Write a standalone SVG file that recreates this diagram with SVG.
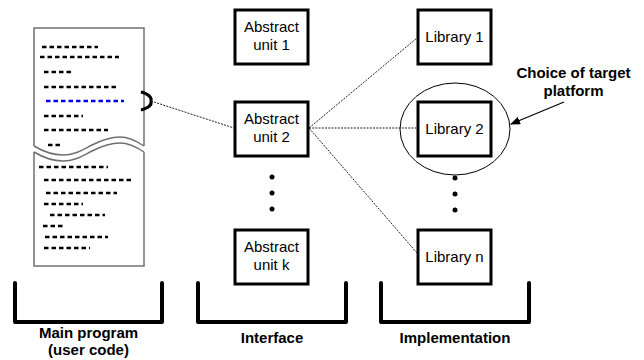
<svg xmlns="http://www.w3.org/2000/svg" width="644" height="360" viewBox="0 0 644 360">
<style>
  .box { fill: #fff; stroke: #000; stroke-width: 3; }
  .lbl { font-family: "Liberation Sans", Arial, sans-serif; font-size: 15px; fill: #000; text-anchor: middle; }
  .bold { font-family: "Liberation Sans", Arial, sans-serif; font-size: 15px; font-weight: bold; fill: #000; text-anchor: middle; }
  .brk { fill: none; stroke: #000; stroke-width: 4; stroke-linecap: round; stroke-linejoin: round; }
  .doc { fill: none; stroke: #707070; stroke-width: 1.5; }
  .code { stroke: #000; stroke-width: 2.4; stroke-dasharray: 4.5 3; }
  .conn { fill: none; stroke: #222; stroke-width: 1; stroke-dasharray: 2 1.2; }
  .dot { fill: #000; }
</style>
<defs>
  <marker id="arrow" markerWidth="10" markerHeight="8" refX="9" refY="4" orient="auto" markerUnits="userSpaceOnUse">
    <path d="M0,0 L10,4 L0,8 Z" fill="#000"/>
  </marker>
</defs>
<rect width="644" height="360" fill="#fff"/>

<g id="main-program">
  <path d="M34,146 V28 H144 V146" class="doc"/>
  <path d="M34,146 C44,152 53,155 63,155 C75,155 82,150 92,145 C102,140 110,137 120,137 C130,137 138,142 144,146" class="doc"/>
  <path d="M34,152 C44,158 53,161 63,161 C75,161 82,156 92,151 C102,146 110,143 120,143 C130,143 138,148 144,152" class="doc"/>
  <path d="M34,152 V266 H144 V152" class="doc"/>
  <g class="code">
    <line x1="42" y1="47" x2="98" y2="47"/>
    <line x1="40" y1="57" x2="119" y2="57"/>
    <line x1="44" y1="72" x2="72" y2="72"/>
    <line x1="44" y1="87" x2="116" y2="87"/>
    <line x1="46" y1="101" x2="124" y2="101" stroke="#0000ee"/>
    <line x1="44" y1="116" x2="83" y2="116"/>
    <line x1="44" y1="130" x2="108" y2="130"/>
    <line x1="48" y1="145" x2="61" y2="145"/>
    <line x1="39" y1="167" x2="108" y2="167"/>
    <line x1="44" y1="180" x2="132" y2="180"/>
    <line x1="46" y1="193" x2="117" y2="193"/>
    <line x1="44" y1="204" x2="83" y2="204"/>
    <line x1="50" y1="215" x2="105" y2="215"/>
    <line x1="43" y1="226" x2="64" y2="226"/>
    <line x1="45" y1="237" x2="108" y2="237"/>
    <line x1="44" y1="248" x2="90" y2="248"/>
  </g>
  <path d="M141,92 C149,94 152,98 151,101 C152,105 149,108 141,110" fill="none" stroke="#000" stroke-width="3"/>
</g>

<g id="connectors">
  <line x1="151" y1="101" x2="234" y2="128" class="conn"/>
  <line x1="309" y1="128" x2="417" y2="38" class="conn"/>
  <line x1="309" y1="128" x2="417" y2="128" class="conn" stroke="#555"/>
  <line x1="309" y1="128" x2="417" y2="253" class="conn"/>
  <line x1="564" y1="102" x2="511" y2="124" stroke="#000" stroke-width="1.3" marker-end="url(#arrow)"/>
</g>

<g id="abstract-unit-1">
  <rect x="235" y="10" width="73" height="54" class="box"/>
  <text x="271.5" y="32" class="lbl">Abstract</text>
  <text x="271.5" y="50" class="lbl">unit 1</text>
</g>
<g id="abstract-unit-2">
  <rect x="235" y="102" width="73" height="54" class="box"/>
  <text x="271.5" y="124" class="lbl">Abstract</text>
  <text x="271.5" y="142" class="lbl">unit 2</text>
</g>
<g id="abstract-dots">
  <circle cx="272" cy="177" r="2.5" class="dot"/>
  <circle cx="272" cy="193" r="2.5" class="dot"/>
  <circle cx="272" cy="209" r="2.5" class="dot"/>
</g>
<g id="abstract-unit-k">
  <rect x="235" y="230" width="73" height="54" class="box"/>
  <text x="271.5" y="252" class="lbl">Abstract</text>
  <text x="271.5" y="270" class="lbl">unit k</text>
</g>

<g id="library-1">
  <rect x="418" y="10" width="73" height="54" class="box"/>
  <text x="454.5" y="42" class="lbl">Library 1</text>
</g>
<g id="library-2">
  <rect x="418" y="102" width="73" height="54" class="box"/>
  <text x="454.5" y="134" class="lbl">Library 2</text>
</g>
<g id="choice-ellipse">
  <ellipse cx="455" cy="129" rx="55" ry="46" fill="none" stroke="#000" stroke-width="1"/>
</g>
<g id="library-dots">
  <circle cx="455" cy="178" r="2.5" class="dot"/>
  <circle cx="455" cy="194" r="2.5" class="dot"/>
  <circle cx="455" cy="210" r="2.5" class="dot"/>
</g>
<g id="library-n">
  <rect x="418" y="230" width="73" height="54" class="box"/>
  <text x="454.5" y="262" class="lbl">Library n</text>
</g>

<g id="choice-label">
  <text x="573.5" y="78" class="bold">Choice of target</text>
  <text x="573.5" y="96" class="bold">platform</text>
</g>

<g id="bracket-main">
  <path d="M15,283 V322 H162 V283" class="brk"/>
  <text x="88.5" y="338" class="bold">Main program</text>
  <text x="88.5" y="355" class="bold">(user code)</text>
</g>
<g id="bracket-interface">
  <path d="M198,283 V322 H346 V283" class="brk"/>
  <text x="272" y="343" class="bold">Interface</text>
</g>
<g id="bracket-implementation">
  <path d="M381,283 V322 H529 V283" class="brk"/>
  <text x="455" y="343" class="bold">Implementation</text>
</g>
</svg>
